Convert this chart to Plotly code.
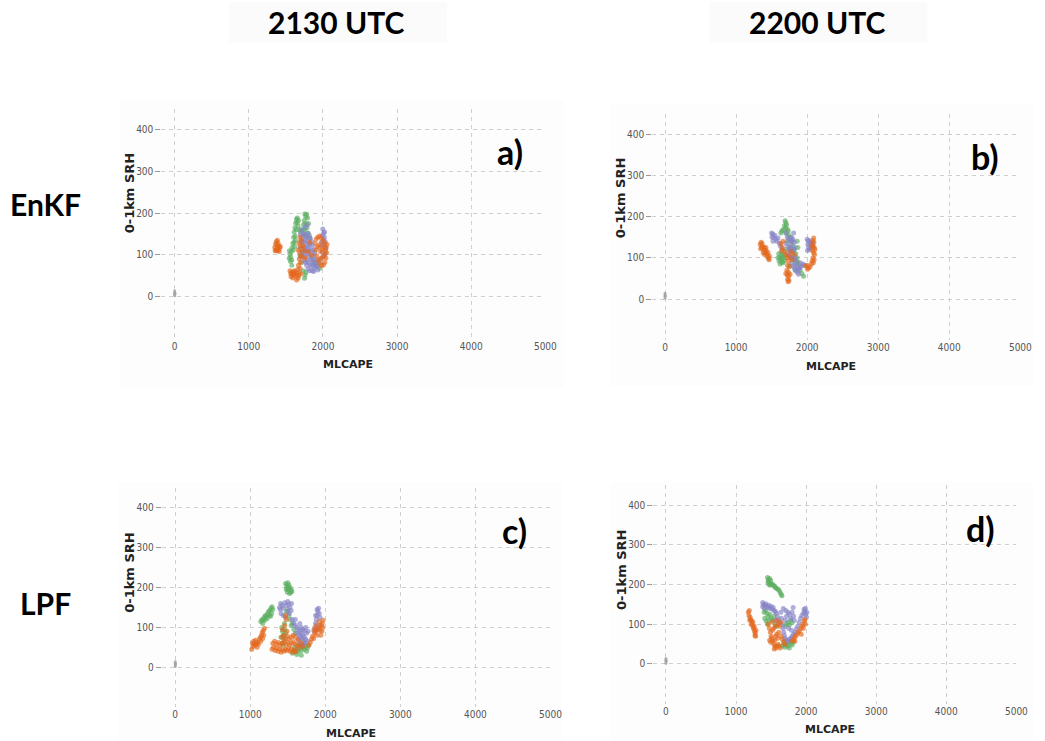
import plotly.graph_objects as go

W, H = 1045, 741

# ---------------------------------------------------------------- data
# MLCAPE (J/kg), 0-1km SRH (m2/s2) pairs for the three member groups

enkf_2130_orange = [
    (1350, 118), (1360, 126), (1372, 132), (1385, 135), (1395, 128), (1405, 122), (1415, 116), (1425, 120),
    (1365, 112), (1380, 110), (1398, 112), (1410, 108), (1378, 122), (1392, 118), (1355, 110),
    (1555, 62), (1565, 55), (1578, 58), (1590, 52), (1600, 60), (1612, 55), (1625, 50), (1570, 48),
    (1595, 45), (1620, 62), (1635, 58),
    (1690, 142), (1705, 135), (1675, 128), (1695, 122), (1715, 115), (1665, 112), (1685, 105), (1735, 122),
    (1750, 110), (1705, 98), (1680, 90), (1695, 82), (1670, 75), (1690, 68), (1660, 65), (1680, 58),
    (1650, 52), (1665, 45), (1645, 40), (1700, 55), (1675, 50), (1725, 95),
    (1895, 128), (1910, 138), (1930, 142), (1955, 145), (1980, 140), (2000, 134), (2025, 128), (2042, 118),
    (2050, 105), (2040, 92), (2025, 82), (2005, 76), (1980, 74), (1955, 80), (1935, 88), (1915, 98),
    (1900, 112), (1945, 118), (1965, 108), (1990, 112), (2012, 118), (2020, 100), (1995, 95), (1960, 125),
    (2035, 110), (1925, 120), (1975, 90), (2055, 125),
    (1800, 108), (1820, 130), (1760, 92), (1840, 100),
]
enkf_2130_green = [
    (1545, 92), (1555, 102), (1548, 110), (1565, 95), (1575, 108), (1585, 118), (1560, 85), (1580, 88),
    (1595, 128), (1605, 142), (1612, 155), (1622, 165), (1632, 176), (1642, 185), (1652, 178), (1665, 170),
    (1640, 160), (1625, 145), (1610, 130), (1598, 112), (1618, 120), (1630, 135), (1655, 188), (1670, 182),
    (1755, 198), (1768, 192), (1780, 197), (1792, 188), (1748, 182), (1738, 172), (1765, 175), (1758, 160),
    (1785, 165), (1800, 152), (1728, 160), (1775, 145), (1745, 150), (1805, 175),
    (1700, 155), (1715, 132), (1690, 98), (1712, 82), (1735, 62), (1758, 52), (1752, 44), (1770, 58),
    (1848, 92), (1875, 82), (1898, 76), (1958, 68), (1822, 140), (1685, 160), (1725, 108), (1580, 75),
]
enkf_2130_purple = [
    (1695, 150), (1715, 142), (1738, 148), (1758, 138), (1778, 142), (1798, 152), (1818, 146), (1702, 132),
    (1728, 122), (1748, 118), (1768, 128), (1788, 118), (1808, 122), (1828, 126), (1848, 132), (1718, 106),
    (1738, 102), (1758, 96), (1778, 108), (1798, 102), (1818, 96), (1838, 112), (1858, 102), (1878, 96),
    (1748, 86), (1768, 82), (1788, 88), (1808, 82), (1828, 76), (1848, 72), (1868, 78), (1888, 68),
    (1908, 72), (1928, 74), (1948, 82), (1968, 92), (1798, 66), (1822, 62), (1858, 62), (1898, 82),
    (1878, 112), (1858, 122), (1688, 116), (1708, 160), (1758, 166), (1788, 172), (1768, 112), (1738, 132),
    (1818, 110), (1842, 88), (1872, 88), (1792, 132), (1752, 150), (1828, 140), (1700, 95), (1890, 105),
    (1910, 88), (1930, 64), (1875, 60), (1780, 75),
    (1998, 162), (2008, 152), (1990, 146), (2020, 142), (2030, 132), (2005, 136), (2040, 116), (2030, 102),
    (2012, 96), (1995, 106), (1985, 122), (2015, 124), (2022, 155), (1980, 130),
]

enkf_2200_orange = [
    (1340, 132), (1352, 138), (1365, 135), (1360, 125), (1375, 128), (1385, 120), (1395, 125), (1405, 118),
    (1415, 112), (1425, 118), (1435, 108), (1445, 102), (1458, 98), (1470, 104), (1450, 112), (1400, 108),
    (1382, 112), (1420, 125), (1465, 95), (1345, 122),
    (1630, 135), (1650, 125), (1680, 115), (1700, 108), (1720, 100), (1660, 140), (1640, 118), (1750, 105),
    (1770, 115), (1735, 92), (1725, 82), (1745, 78), (1715, 70), (1735, 65), (1720, 58), (1740, 55),
    (1725, 48), (1745, 45), (1732, 42), (1760, 60), (1700, 62), (1790, 95), (1820, 108),
    (2080, 142), (2095, 138), (2085, 128), (2100, 125), (2075, 118), (2090, 112), (2105, 108), (2082, 100),
    (2098, 95), (2070, 92), (2088, 88), (2060, 85), (2040, 78), (2020, 75), (2000, 82), (2005, 72),
    (2110, 120), (2065, 130), (1980, 80), (2092, 148),
]
enkf_2200_green = [
    (1600, 110), (1615, 100), (1630, 95), (1645, 90), (1660, 88), (1675, 92), (1620, 85), (1640, 105),
    (1655, 100), (1670, 108), (1605, 92), (1685, 100), (1635, 112), (1590, 100),
    (1690, 190), (1700, 185), (1710, 180), (1680, 178), (1695, 172), (1720, 170), (1735, 165), (1705, 160),
    (1740, 155), (1660, 168), (1645, 165), (1630, 160), (1760, 150), (1780, 140), (1800, 130), (1820, 120),
    (1840, 110), (1860, 100), (1870, 90), (1880, 80), (1900, 70), (1925, 62), (1950, 55), (1790, 115),
    (1810, 95), (1850, 88), (1760, 80), (1775, 100), (1830, 70), (1870, 125), (1860, 140), (1720, 140),
    (1750, 125), (1700, 120),
]
enkf_2200_purple = [
    (1500, 160), (1515, 158), (1530, 150), (1545, 155), (1560, 145), (1575, 140), (1590, 148), (1505, 150),
    (1610, 135), (1625, 128), (1650, 122), (1520, 140),
    (1700, 160), (1720, 150), (1740, 145), (1760, 140), (1780, 150), (1800, 145), (1820, 138), (1700, 135),
    (1730, 128), (1750, 120), (1770, 130), (1790, 122), (1810, 118), (1830, 125), (1720, 110), (1745, 105),
    (1765, 100), (1785, 108), (1805, 98), (1825, 102), (1840, 95), (1780, 88), (1800, 80), (1820, 75),
    (1840, 70), (1860, 78), (1880, 72), (1900, 75), (1920, 80), (1940, 85), (1960, 82), (1860, 65),
    (1790, 140), (1810, 160), (1760, 118), (1830, 85), (1880, 60), (1900, 88),
    (2000, 145), (2015, 140), (2030, 142), (2045, 135), (2060, 138), (2070, 128), (2050, 125), (2010, 132),
    (2035, 120), (2020, 125), (2080, 135), (2005, 118),
]

lpf_2130_orange = [
    (1020, 45), (1035, 52), (1050, 58), (1065, 55), (1080, 60), (1095, 62), (1110, 58), (1045, 65),
    (1070, 68), (1120, 70), (1135, 75), (1150, 80), (1160, 88), (1175, 92), (1190, 98), (1180, 80),
    (1165, 72), (1140, 65), (1030, 60), (1090, 50),
    (1290, 45), (1310, 50), (1330, 42), (1350, 48), (1370, 40), (1390, 46), (1410, 38), (1430, 44),
    (1450, 40), (1470, 46), (1490, 42), (1510, 48), (1530, 40), (1550, 45), (1570, 38), (1590, 44),
    (1610, 40), (1300, 60), (1325, 65), (1350, 58), (1375, 62), (1400, 55), (1425, 60), (1450, 65),
    (1475, 58), (1500, 62), (1525, 56), (1550, 60), (1575, 64), (1600, 58), (1625, 55), (1650, 50),
    (1420, 75), (1445, 80), (1470, 72), (1495, 78), (1520, 70), (1545, 75), (1570, 80), (1430, 95),
    (1460, 105), (1480, 120), (1470, 130), (1490, 90), (1600, 75), (1640, 68), (1680, 60), (1700, 52),
    (1780, 55), (1800, 62), (1815, 70), (1830, 78), (1845, 72), (1860, 85), (1875, 90), (1890, 80),
    (1900, 95), (1915, 100), (1930, 92), (1945, 105), (1960, 110), (1970, 118), (1955, 90), (1940, 80),
    (1920, 115), (1965, 100), (1880, 105), (1850, 95),
]
lpf_2130_green = [
    (1470, 210), (1485, 205), (1500, 212), (1515, 206), (1530, 200), (1545, 195), (1555, 190), (1480, 195),
    (1495, 188), (1510, 195), (1525, 185), (1540, 188), (1505, 200), (1490, 198),
    (1140, 115), (1155, 120), (1170, 118), (1185, 125), (1200, 130), (1215, 128), (1230, 135), (1245, 140),
    (1260, 142), (1275, 148), (1290, 152), (1300, 145), (1285, 135), (1255, 130), (1225, 122), (1195, 118),
    (1165, 110), (1270, 128),
    (1420, 100), (1430, 90), (1440, 80), (1450, 70), (1425, 60), (1440, 55), (1460, 95), (1470, 85),
    (1410, 75), (1455, 110), (1480, 140), (1500, 145), (1515, 130), (1530, 120), (1545, 105), (1560, 110),
    (1580, 95), (1600, 85),
    (1560, 35), (1580, 42), (1600, 38), (1620, 45), (1640, 40), (1660, 48), (1680, 42), (1700, 50),
    (1720, 45), (1740, 52), (1760, 48), (1780, 55), (1590, 50), (1650, 55), (1710, 58), (1750, 40),
    (1680, 30), (1620, 32),
]
lpf_2130_purple = [
    (1390, 150), (1405, 160), (1420, 155), (1440, 148), (1460, 162), (1480, 155), (1500, 165), (1515, 158),
    (1530, 150), (1545, 142), (1520, 135), (1500, 140), (1410, 135), (1440, 130), (1470, 125), (1550, 160),
    (1400, 145),
    (1560, 120), (1580, 110), (1600, 105), (1620, 100), (1640, 95), (1660, 90), (1680, 85), (1700, 80),
    (1720, 75), (1740, 70), (1650, 80), (1670, 75), (1690, 70), (1710, 65), (1730, 60), (1680, 100),
    (1700, 95), (1720, 92), (1660, 110), (1640, 70), (1660, 60), (1750, 85), (1740, 100), (1620, 85),
    (1700, 55), (1680, 55), (1760, 65), (1770, 90), (1600, 120),
    (1860, 100), (1870, 110), (1880, 120), (1890, 130), (1900, 140), (1910, 148), (1890, 145), (1920, 135),
    (1930, 125), (1850, 90), (1880, 95), (1870, 130), (1920, 105),
]

lpf_2200_orange = [
    (1175, 130), (1190, 135), (1185, 122), (1200, 118), (1210, 112), (1225, 108), (1215, 100), (1235, 98),
    (1245, 92), (1255, 88), (1265, 82), (1275, 78), (1280, 70), (1270, 72), (1260, 95), (1195, 110),
    (1240, 105), (1285, 85),
    (1460, 100), (1475, 90), (1490, 80), (1500, 70), (1480, 60), (1495, 55), (1510, 65), (1525, 58),
    (1540, 50), (1555, 45), (1570, 40), (1585, 45), (1600, 50), (1615, 45), (1630, 40), (1550, 60),
    (1565, 70), (1580, 75), (1595, 65), (1610, 80), (1620, 95), (1635, 105), (1600, 100), (1580, 110),
    (1560, 95), (1520, 85), (1540, 90), (1640, 70), (1660, 62), (1680, 55), (1700, 50), (1545, 38),
    (1515, 105),
    (1800, 58), (1820, 62), (1840, 68), (1860, 72), (1880, 78), (1900, 82), (1920, 88), (1940, 95),
    (1955, 100), (1970, 108), (1985, 112), (1960, 90), (1930, 75), (1990, 100), (1840, 58),
]
lpf_2200_green = [
    (1450, 218), (1460, 212), (1470, 208), (1455, 205), (1480, 215), (1495, 210), (1505, 202), (1520, 200),
    (1535, 198), (1550, 195), (1565, 192), (1580, 190), (1600, 188), (1615, 185), (1630, 180), (1645, 175),
    (1655, 172), (1490, 198), (1470, 200),
    (1400, 130), (1420, 135), (1440, 128), (1460, 120), (1480, 125), (1500, 115), (1520, 110), (1410, 115),
    (1430, 108), (1450, 100), (1470, 110), (1540, 120), (1560, 100), (1580, 95), (1700, 95), (1720, 100),
    (1740, 105), (1760, 98), (1780, 110), (1800, 104),
    (1660, 45), (1680, 50), (1700, 42), (1720, 48), (1740, 45), (1760, 40), (1780, 52), (1800, 48),
    (1820, 55), (1690, 58), (1750, 55),
]
lpf_2200_purple = [
    (1380, 155), (1395, 150), (1410, 148), (1425, 152), (1440, 145), (1455, 142), (1470, 148), (1485, 140),
    (1500, 145), (1515, 138), (1530, 142), (1545, 135), (1560, 132), (1575, 128), (1590, 120), (1605, 112),
    (1620, 105), (1380, 145), (1400, 140), (1560, 110), (1640, 130), (1650, 115), (1660, 100), (1670, 90),
    (1680, 80), (1690, 72), (1700, 65), (1720, 60), (1740, 58), (1760, 62), (1780, 65), (1800, 70),
    (1820, 75), (1840, 80), (1860, 88), (1880, 95), (1900, 105), (1920, 115), (1940, 122), (1960, 128),
    (1980, 132), (1995, 125), (2005, 118), (1990, 140), (1970, 138), (2010, 130), (1700, 110), (1720, 120),
    (1740, 130), (1760, 125), (1780, 115), (1800, 130), (1815, 142), (1820, 120), (1830, 110), (1710, 135),
    (1675, 140), (1750, 90), (1790, 85),
]

# near-zero points sitting on the origin in every panel
origin_points = [(0, 2), (0, 6), (0, 10), (0, 14), (4, 8)]

x_ticks = [0, 1000, 2000, 3000, 4000, 5000]
y_ticks = [0, 100, 200, 300, 400]
column_titles = ["2130 UTC", "2200 UTC"]
row_titles = ["EnKF", "LPF"]
panel_letters = ["a)", "b)", "c)", "d)"]

# ---------------------------------------------------------------- layout helpers
# plot-area boxes in pixels: left, right, top, bottom
boxes = [
    (163.2, 551.7, 108.6, 338.5),
    (659.8, 1032.2, 113.6, 340.2),
    (163.6, 556.8, 487.7, 707.2),
    (660.9, 1028.2, 485.3, 703.7),
]
panel_sets = [
    (enkf_2130_green, enkf_2130_purple, enkf_2130_orange),
    (enkf_2200_green, enkf_2200_purple, enkf_2200_orange),
    (lpf_2130_green, lpf_2130_purple, lpf_2130_orange),
    (lpf_2200_green, lpf_2200_purple, lpf_2200_orange),
]
colors = ["#5aae5f", "#8683c6", "#e4671c"]


def px(x):
    return x / W


def py(y):
    return 1 - y / H


fig = go.Figure()
TICK_FONT = dict(family="DejaVu Sans Condensed, DejaVu Sans", size=10, color="#555555")
LABEL_FONT = dict(family="DejaVu Sans, sans-serif", size=11, color="#222222")
BIG_FONT = dict(family="Lato, Open Sans, sans-serif", size=30, color="#000000")

layout_axes = {}
annotations = []
shapes = []

# faint panel backdrops
for (x0, x1, y0, y1) in [(122, 570, 100, 388), (617, 1045, 104, 386), (120, 568, 482, 741), (618, 1045, 482, 741)]:
    shapes.append(dict(type="rect", xref="paper", yref="paper", x0=px(x0), x1=px(x1), y0=py(y1), y1=py(y0),
                       fillcolor="#fdfdfd", line=dict(width=0), layer="below"))
# soft pills behind the column titles
for (x0, x1) in [(232, 452), (718, 938)]:
    shapes.append(dict(type="rect", xref="paper", yref="paper", x0=px(x0), x1=px(x1), y0=py(43), y1=py(2),
                       fillcolor="#fbfbfb", line=dict(width=0), layer="below"))

for i, (box, series) in enumerate(zip(boxes, panel_sets)):
    n = "" if i == 0 else str(i + 1)
    left, right, top, bottom = box
    xa, ya = "x" + n, "y" + n
    for pts, col in zip(series, colors):
        fig.add_trace(go.Scatter(
            x=[p[0] for p in pts], y=[p[1] for p in pts], mode="markers",
            marker=dict(size=5, color=col, opacity=0.65, line=dict(width=0)),
            xaxis=xa, yaxis=ya, showlegend=False, hoverinfo="skip"))
    fig.add_trace(go.Scatter(
        x=[p[0] for p in origin_points], y=[p[1] for p in origin_points], mode="markers",
        marker=dict(size=3, color="#a0a0a0", opacity=0.8),
        xaxis=xa, yaxis=ya, showlegend=False, hoverinfo="skip"))

    common = dict(showgrid=True, gridcolor="#cfcfcf", gridwidth=1, griddash="4px,4px",
                  zeroline=False, showline=False, tickfont=TICK_FONT)
    layout_axes["xaxis" + n] = dict(domain=[px(left), px(right)], anchor=ya, range=[-180, 5000],
                                    tickvals=x_ticks, ticks="", **common)
    layout_axes["yaxis" + n] = dict(domain=[py(bottom), py(top)], anchor=xa, range=[-100, 450],
                                    tickvals=y_ticks, ticks="outside", ticklen=5, tickcolor="#999999",
                                    **common)

    cx = (left + right) / 2
    annotations.append(dict(text="<b>MLCAPE</b>", x=px(cx - 5), y=py(bottom + 26), xref="paper", yref="paper",
                            showarrow=False, font=LABEL_FONT, xanchor="center", yanchor="middle"))
    annotations.append(dict(text="<b>0-1km SRH</b>", x=px(left - 32), y=py(top + 85), xref="paper",
                            yref="paper", showarrow=False, font=dict(LABEL_FONT, size=13), textangle=-90,
                            xanchor="center", yanchor="middle"))
    annotations.append(dict(text="<b>" + panel_letters[i] + "</b>", x=px(right - 36), y=py(top + 43),
                            xref="paper", yref="paper", showarrow=False, font=dict(BIG_FONT, size=34),
                            xanchor="center", yanchor="middle"))

for t, cx in zip(column_titles, [340, 826]):
    annotations.append(dict(text="<b>" + t + "</b>", x=px(cx), y=py(22), xref="paper", yref="paper",
                            showarrow=False, font=BIG_FONT, xanchor="center", yanchor="middle"))
for t, cy in zip(row_titles, [204, 603]):
    annotations.append(dict(text="<b>" + t + "</b>", x=px(46), y=py(cy), xref="paper", yref="paper",
                            showarrow=False, font=BIG_FONT, xanchor="center", yanchor="middle"))

fig.update_layout(width=W, height=H, margin=dict(l=0, r=0, t=0, b=0),
                  paper_bgcolor="white", plot_bgcolor="rgba(0,0,0,0)",
                  annotations=annotations, shapes=shapes, **layout_axes)

fig.write_html("out.html")
